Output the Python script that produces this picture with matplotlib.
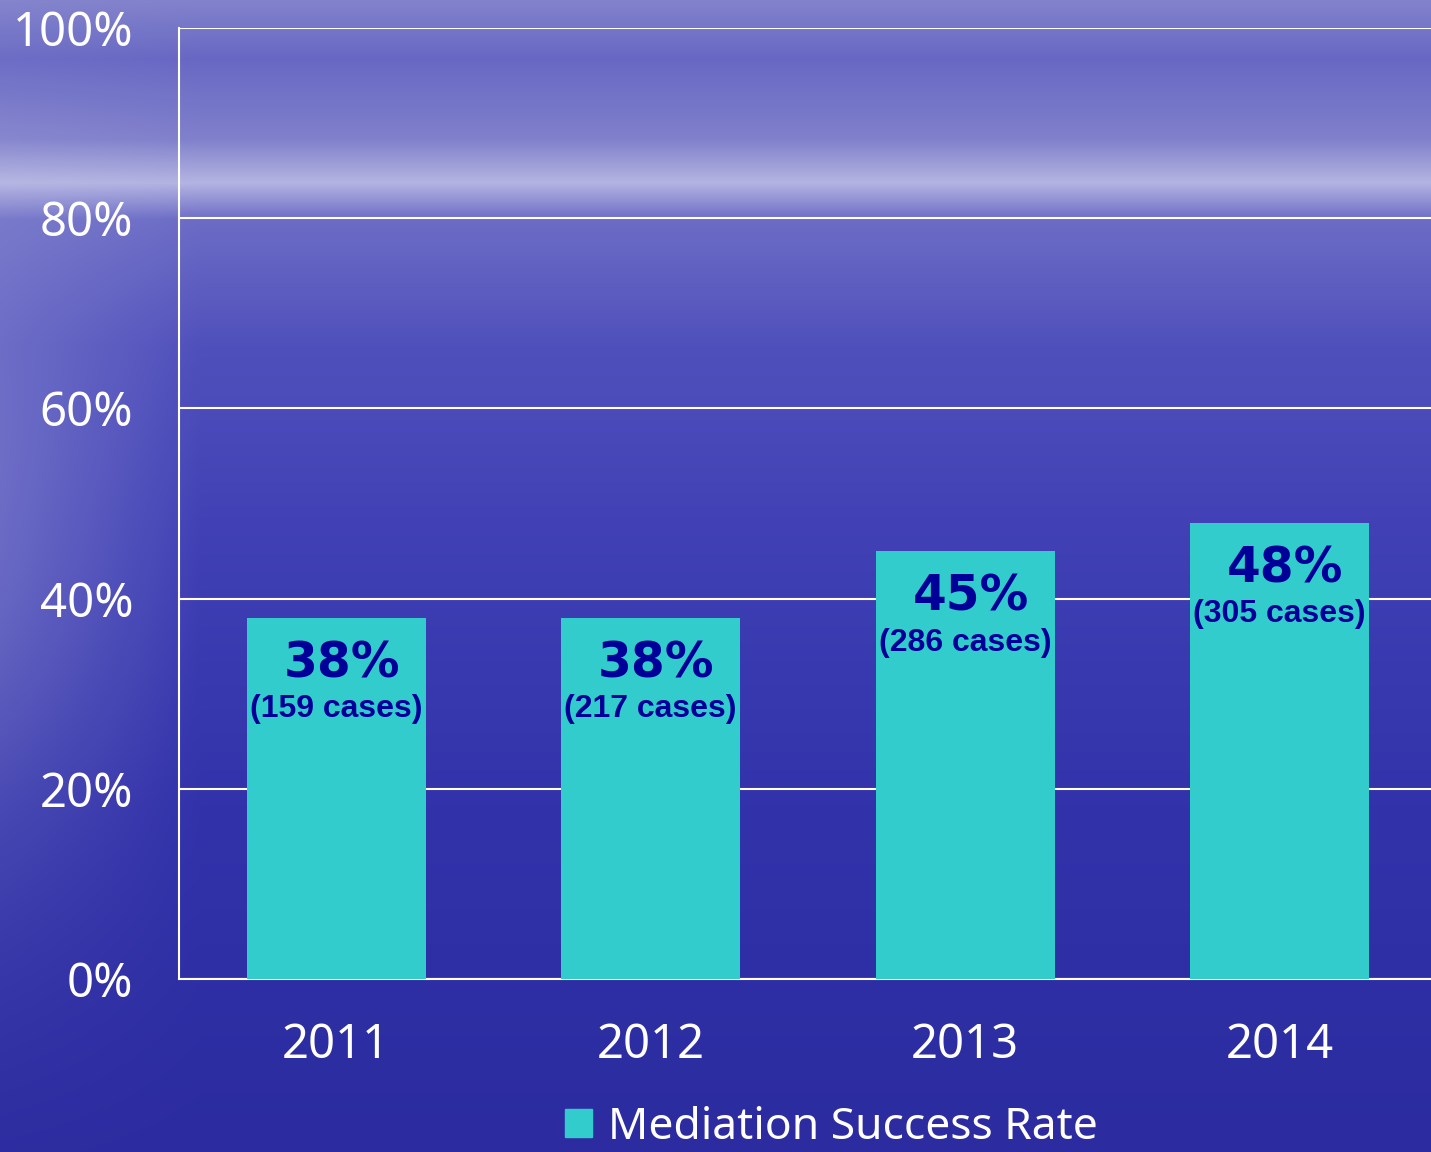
import numpy as np
import matplotlib.pyplot as plt
from matplotlib.patches import Patch

# data
years = ['2011', '2012', '2013', '2014']
success_rate = [38, 38, 45, 48]
cases = [159, 217, 286, 305]
y_ticks = [0, 20, 40, 60, 80, 100]

BAR_COLOR = '#33CCCC'
LABEL_COLOR = '#000099'

fig = plt.figure(figsize=(14.31, 11.52), dpi=100)

# background: sky / sea gradient
bg = fig.add_axes([0, 0, 1, 1], zorder=-10)
h, w = 576, 716
yy = np.linspace(0, 1, h)[:, None]
xx = np.linspace(0, 1, w)[None, :]
stops_y = [0.0, 0.05, 0.12, 0.158, 0.19, 0.3, 0.45, 0.7, 1.0]
stops_r = [0x82, 0x68, 0x80, 0xb4, 0x6c, 0x50, 0x42, 0x32, 0x2c]
stops_b = [0xcc, 0xc4, 0xcc, 0xe2, 0xc6, 0xbc, 0xb6, 0xaa, 0xa0]
r = np.interp(yy, stops_y, stops_r) * np.ones_like(xx)
b = np.interp(yy, stops_y, stops_b) * np.ones_like(xx)
# lighter haze on the left side
haze = np.clip(1 - xx / 0.14, 0, 1) * np.exp(-((yy - 0.45) / 0.3) ** 2) * 0.3
img = np.dstack([r, r, b]) / 255.0
img = img * (1 - haze[..., None]) + haze[..., None] * np.array([0.8, 0.8, 0.92])
bg.imshow(img, aspect='auto', extent=[0, 1, 0, 1])
bg.axis('off')

ax = fig.add_axes([179 / 1431, 173 / 1152, 1258 / 1431, 951 / 1152])
ax.patch.set_alpha(0)
x = np.arange(len(years))
bars = ax.bar(x, success_rate, width=0.57, color=BAR_COLOR, zorder=3)

ax.set_xlim(-0.5, 3.5)
ax.set_ylim(0, 100)
ax.set_yticks(y_ticks)
ax.set_yticklabels([f'{v}%' for v in y_ticks])
ax.set_xticks(x)
ax.set_xticklabels(years)
ax.tick_params(axis='y', length=0, pad=33, labelsize=34, labelcolor='white')
ax.tick_params(axis='x', length=0, pad=31, labelsize=34, labelcolor='white')
for lab in ax.get_xticklabels() + ax.get_yticklabels():
    lab.set_fontfamily('Noto Sans')

ax.grid(axis='y', color='white', linewidth=1.5, zorder=1)
for side in ['top', 'right']:
    ax.spines[side].set_visible(False)
for side in ['left', 'bottom']:
    ax.spines[side].set_color('white')
    ax.spines[side].set_linewidth(1.5)

# value labels inside bars
for xi, v, n in zip(x, success_rate, cases):
    ax.annotate(f'{v}%', (xi, v), xytext=(4, -33), textcoords='offset points',
                ha='center', va='center', fontsize=35, fontweight='bold',
                family='DejaVu Sans', color=LABEL_COLOR, zorder=4)
    ax.annotate(f'({n} cases)', (xi, v), xytext=(0, -66), textcoords='offset points',
                ha='center', va='center', fontsize=23, fontweight='bold',
                family='Liberation Sans', color=LABEL_COLOR, zorder=4)

leg = fig.legend(handles=[Patch(color=BAR_COLOR, label='Mediation Success Rate')],
                 loc='center', bbox_to_anchor=(0.581, 0.021), frameon=False,
                 prop={'family': 'Noto Sans', 'size': 32},
                 handlelength=0.6, handleheight=0.6, handletextpad=0.35,
                 borderpad=0.1)
for t in leg.get_texts():
    t.set_color('white')

fig.savefig('out.png', dpi=100)
